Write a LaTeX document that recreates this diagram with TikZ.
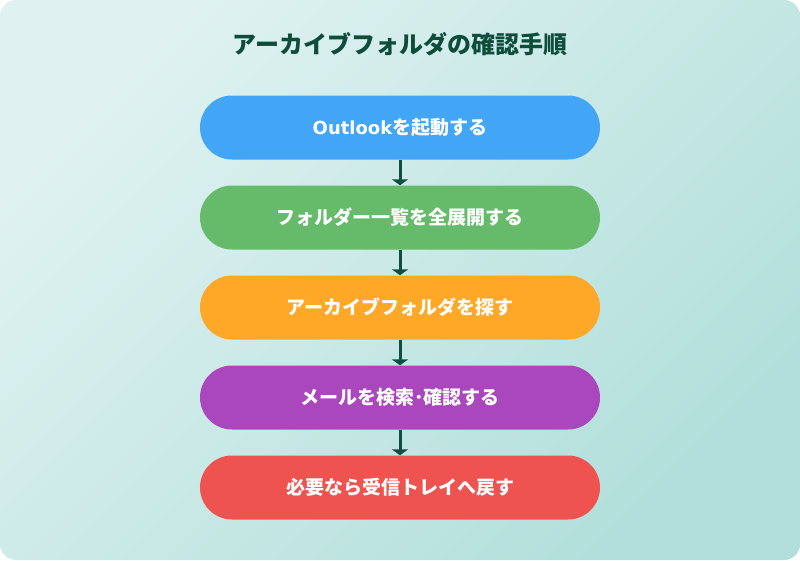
\documentclass[tikz,border=0pt]{standalone}
\usepackage{fontspec}
\setmainfont{Noto Sans CJK JP}
\newfontfamily\latinb{DejaVu Sans}
\usetikzlibrary{arrows.meta}
\definecolor{bgA}{HTML}{DFF2F1}
\definecolor{bgB}{HTML}{B2DFDB}
\definecolor{titlec}{HTML}{0F4D3B}
\definecolor{arrc}{HTML}{0D4F42}
\definecolor{c1}{HTML}{42A5F5}
\definecolor{c2}{HTML}{66BB6A}
\definecolor{c3}{HTML}{FFA726}
\definecolor{c4}{HTML}{AB47BC}
\definecolor{c5}{HTML}{EF5350}
\tikzset{
  stepbox/.style={rounded corners=32pt, minimum width=400pt, minimum height=64pt, inner sep=0pt,
    text=white, font=\bfseries\fontsize{19pt}{23pt}\selectfont},
  flowarrow/.style={draw=arrc, line width=3pt, -{Triangle[width=16pt,length=6pt]}}
}
\begin{document}
\begin{tikzpicture}[x=1pt,y=-1pt]
\useasboundingbox (0,0) rectangle (800,560);
\shade[top color=bgA, bottom color=bgB, shading angle=45, rounded corners=16pt] (0,0) rectangle (800,560);
\node[text=titlec, font=\bfseries\fontsize{24pt}{28pt}\selectfont] (title) at (400,44) {アーカイブフォルダの確認手順};
\node[stepbox, fill=c1] (s1) at (400,127.5) {{\latinb\fontsize{18pt}{23pt}\selectfont Outlook}を起動する};
\node[stepbox, fill=c2] (s2) at (400,217.5) {フォルダー一覧を全展開する};
\node[stepbox, fill=c3] (s3) at (400,307.5) {アーカイブフォルダを探す};
\node[stepbox, fill=c4] (s4) at (400,397.5) {メールを検索･確認する};
\node[stepbox, fill=c5] (s5) at (400,487.5) {必要なら受信トレイへ戻す};
\draw[flowarrow] (s1.south) -- (s2.north);
\draw[flowarrow] (s2.south) -- (s3.north);
\draw[flowarrow] (s3.south) -- (s4.north);
\draw[flowarrow] (s4.south) -- (s5.north);
\end{tikzpicture}
\end{document}
